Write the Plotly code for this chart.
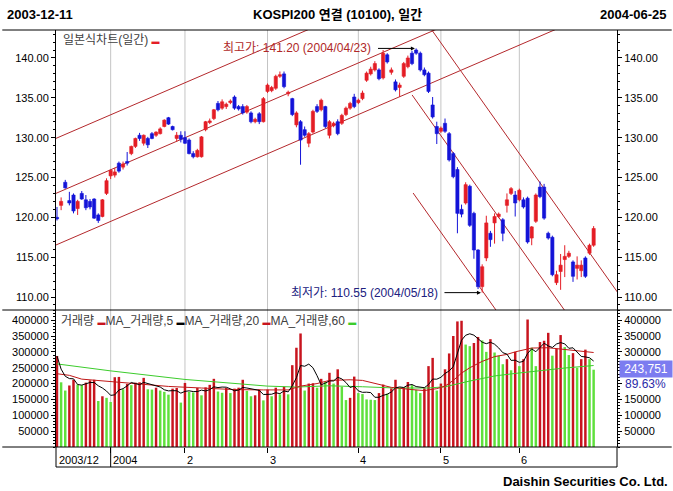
import pandas as pd
import plotly.graph_objects as go

# ---------------- data ----------------
HOLIDAYS = ["2003-12-25", "2003-12-31", "2004-01-01", "2004-01-21", "2004-01-22",
            "2004-01-23", "2004-03-01", "2004-04-05", "2004-04-15", "2004-05-05", "2004-05-26"]
DATES = [d for d in pd.bdate_range("2003-12-11", "2004-06-25")
         if d.strftime("%Y-%m-%d") not in HOLIDAYS]

OPEN = [120.0, 121.5, 124.4, 122.1, 122.8, 121.1, 123.0, 122.2, 122.0, 122.3, 120.3, 120.1, 123.0,
        125.2, 125.3, 126.8, 126.3, 127.0, 128.0, 128.9, 130.3, 129.3, 129.9, 130.5, 130.3, 130.5, 131.4,
        132.5, 131.4, 129.9, 130.3,
        130.0, 129.7, 128.0, 127.6, 127.6, 131.0, 131.9, 132.4, 134.3, 133.7, 133.9, 134.4, 135.1, 133.9,
        133.9, 133.2, 133.1, 132.0, 133.0, 132.0,
        135.8, 135.9, 136.2, 137.7, 138.0, 135.5, 134.9, 131.6, 132.0, 131.0, 129.3, 130.7, 133.9, 133.5,
        133.9, 130.3, 131.5, 132.0, 131.8, 132.9, 133.7, 135.1,
        134.4, 134.9, 137.2, 138.0, 138.5, 138.5, 137.5, 140.4, 138.2, 137.0, 136.3, 137.7, 138.9, 140.6,
        141.0, 140.6, 138.5, 138.1, 134.1, 131.4,
        130.8, 131.8, 130.5, 128.0, 126.0, 121.0, 121.8, 123.9, 120.5, 115.9, 111.3, 114.9, 118.0, 119.3,
        120.1, 119.7, 121.5, 123.0, 122.8,
        122.2, 122.2, 122.4, 117.4, 119.5, 123.8, 123.8, 118.0, 117.5, 111.8, 113.2, 114.7, 115.1, 114.4,
        113.6, 113.3, 114.9, 115.5, 116.5]
HIGH = [121.3, 122.5, 124.7, 123.2, 123.0, 122.2, 123.3, 122.8, 122.3, 122.4, 120.5, 122.3, 124.9,
        126.0, 126.2, 127.0, 127.0, 128.2, 129.0, 130.0, 130.6, 130.4, 130.1, 130.7, 130.8, 131.3, 132.3,
        132.6, 131.5, 130.7, 130.8,
        130.8, 129.9, 128.3, 128.6, 130.2, 132.1, 132.4, 133.6, 134.6, 134.8, 134.4, 134.8, 135.3, 134.1,
        134.2, 134.1, 133.3, 132.5, 133.2, 135.1,
        136.8, 136.5, 137.9, 138.3, 138.3, 135.9, 135.0, 133.3, 132.2, 131.4, 130.7, 133.5, 134.2, 134.9,
        134.0, 132.2, 132.0, 132.3, 133.0, 133.9, 134.5, 135.5,
        134.9, 135.9, 138.3, 138.9, 139.6, 138.7, 141.0, 140.6, 138.8, 137.3, 136.9, 139.5, 140.3, 140.9,
        141.2, 140.8, 138.8, 138.3, 135.1, 132.0,
        131.4, 132.4, 130.7, 128.2, 126.3, 121.6, 124.4, 124.1, 120.7, 116.0, 114.1, 120.2, 118.3, 120.5,
        120.6, 119.9, 123.0, 123.8, 123.3,
        123.6, 122.5, 122.6, 118.9, 123.0, 124.5, 124.2, 118.2, 117.7, 113.3, 115.4, 116.5, 115.8, 114.6,
        115.1, 114.6, 115.1, 116.7, 118.9]
LOW = [119.6, 120.9, 123.6, 121.5, 120.5, 120.3, 122.2, 120.9, 121.0, 119.8, 119.3, 120.0, 122.8,
       124.8, 125.0, 125.6, 126.0, 126.5, 127.8, 128.7, 129.6, 129.0, 128.7, 129.8, 130.1, 130.4, 131.3,
       131.6, 130.9, 129.5, 129.4,
       129.2, 127.9, 127.4, 127.5, 127.5, 130.8, 131.7, 132.2, 133.3, 133.5, 133.6, 134.2, 133.5, 133.4,
       132.9, 133.0, 131.8, 131.8, 131.7, 131.9,
       135.6, 135.7, 136.0, 137.5, 136.2, 135.2, 132.7, 131.3, 126.6, 130.1, 128.8, 130.5, 133.1, 133.3,
       131.2, 129.9, 131.3, 130.3, 131.6, 132.7, 133.5, 133.7,
       134.2, 134.7, 137.0, 137.8, 138.3, 137.2, 137.3, 139.3, 137.9, 135.8, 135.1, 137.5, 138.7, 139.1,
       140.4, 138.3, 137.7, 135.6, 132.4, 129.2,
       130.6, 130.6, 127.0, 124.9, 118.0, 120.0, 121.6, 118.8, 114.8, 111.0, 110.55, 114.5, 116.3, 116.7,
       119.9, 117.0, 120.6, 122.8, 120.1,
       122.0, 121.1, 116.7, 116.5, 119.3, 122.4, 119.7, 117.2, 112.6, 111.5, 110.9, 112.5, 114.9, 111.9,
       112.2, 112.5, 112.4, 115.3, 116.3]
CLOSE = [119.8, 122.0, 123.7, 121.8, 120.8, 122.0, 122.3, 121.2, 121.3, 119.9, 119.6, 122.2, 124.6,
         125.9, 125.7, 125.8, 126.7, 126.8, 128.9, 129.9, 129.9, 130.3, 129.1, 129.9, 130.7, 131.1, 132.2,
         131.7, 131.0, 130.3, 129.8,
         129.3, 128.0, 127.6, 128.4, 130.1, 132.0, 132.1, 133.5, 133.5, 134.5, 134.2, 134.6, 133.7, 133.6,
         133.1, 133.9, 132.0, 132.3, 132.0, 134.9,
         136.6, 136.3, 137.7, 137.9, 136.4, 135.7, 132.9, 133.1, 129.7, 130.3, 130.5, 133.3, 133.3, 134.7,
         131.4, 132.0, 131.8, 130.5, 132.8, 133.7, 134.3, 133.9,
         134.7, 135.6, 138.1, 138.6, 139.3, 137.4, 140.6, 139.5, 138.5, 136.0, 136.6, 139.3, 140.0, 139.3,
         140.6, 138.5, 137.9, 135.8, 132.6, 130.5,
         131.2, 130.8, 127.2, 125.1, 120.5, 120.4, 124.1, 119.0, 115.9, 111.3, 113.8, 119.3, 117.2, 120.1,
         120.4, 118.0, 122.2, 123.6, 121.8,
         123.4, 121.3, 116.9, 118.8, 122.8, 122.6, 119.9, 117.4, 112.8, 112.8, 114.0, 115.1, 115.5, 112.6,
         114.0, 114.0, 112.6, 116.5, 118.6]

VOLUME_K = [287, 204, 178, 194, 212, 197, 195, 203, 210, 212, 145, 160, 155,
            142, 220, 221, 182, 199, 195, 203, 204, 218, 182, 181, 187, 178, 174, 165, 184, 186, 140,
            202, 174, 172, 186, 163, 188, 196, 215, 175, 171, 186, 170, 184, 187, 212, 177, 160, 163, 181, 147,
            181, 160, 187, 166, 190, 166, 258, 313, 358, 178, 200, 201, 187, 215, 205, 234, 200, 245, 190, 148,
            155, 222,
            170, 167, 150, 149, 148, 170, 197, 168, 185, 212, 185, 188, 205, 195, 180, 170, 185, 255, 281, 178,
            200, 245, 295, 350, 396, 398, 323, 318, 328, 347, 336, 300, 340, 298, 288, 261, 277, 242, 300,
            255, 277, 402, 313, 255, 331, 335, 360, 288, 310, 353, 315, 290, 296, 250, 277, 307, 277, 243.751]

MA20_IDX = [0, 3, 6, 10, 14, 20, 27, 35, 43, 50, 56, 59, 63, 66, 71, 74, 78, 81, 86, 89, 92, 94, 96,
            98, 100, 103, 106, 109, 111, 113, 115, 119, 123, 127, 130]
MA20_K = [231, 226, 214, 210, 206, 199, 191, 186, 181, 180, 180, 192, 200, 210, 212, 210, 198, 188, 181,
          178, 184, 192, 210, 233, 250, 270, 285, 292, 300, 305, 312, 313, 307, 302, 298]
MA60_IDX = [0, 13, 31, 45, 51, 58, 66, 74, 82, 90, 94, 100, 106, 111, 116, 123, 130]
MA60_K = [262, 240, 213, 198, 192, 189, 193, 190, 186, 186, 190, 208, 224, 232, 240, 249, 257]

PRICE_TICKS = [110, 115, 120, 125, 130, 135, 140]
VOL_TICKS = [50000, 100000, 150000, 200000, 250000, 300000, 350000, 400000]
MONTH_TEXT = ["2003/12", "2004", "2", "3", "4", "5", "6"]

HIGH_NOTE = ("최고가", 141.20, "2004/04/23")
LOW_NOTE = ("최저가", 110.55, "2004/05/18")
LAST_VOL_TEXT = "243,751"
LAST_VOL_PCT = "89.63%"

n = len(DATES)
assert len(OPEN) == n and len(HIGH) == n and len(LOW) == n and len(CLOSE) == n and len(VOLUME_K) == n

X = list(range(n))
VOLUME = [v * 1000 for v in VOLUME_K]
MA5 = pd.Series(VOLUME).rolling(5, min_periods=1).mean().tolist()
MA20 = [v * 1000 for v in MA20_K]
MA60 = [v * 1000 for v in MA60_K]

month_starts = [i for i in range(1, n) if DATES[i].month != DATES[i - 1].month]
label_pos = [0] + month_starts
date_idx = {d.strftime("%Y/%m/%d"): i for i, d in enumerate(DATES)}

# ---------------- styling ----------------
RED = "#e41e26"
BLUE = "#1414d8"
VRED = "#c8141e"
VGREEN = "#5fe03c"
MA60C = "#3ccc2c"
TREND = "#b4282c"
FONT = "Liberation Sans, Arial, Noto Sans CJK KR, sans-serif"

W, H = 673, 491
ML, MR, MT, MB = 54, 55, 30, 44
PW, PH = W - ML - MR, H - MT - MB


def px(xp):
    return (xp - ML) / PW


def py(yp):
    return (H - MB - yp) / PH


SPLIT = py(310)
XR = [-0.24, 135.66]
PR = [108.37, 143.51]
VR = [0, 432000]

fig = go.Figure()

up = [i for i in X if CLOSE[i] >= OPEN[i]]
dn = [i for i in X if CLOSE[i] < OPEN[i]]


def wick(idx):
    xs, ys = [], []
    for i in idx:
        xs += [i, i, None]
        ys += [LOW[i], HIGH[i], None]
    return xs, ys


for idx, col in ((up, RED), (dn, BLUE)):
    xs, ys = wick(idx)
    fig.add_trace(go.Scatter(x=xs, y=ys, mode="lines", line=dict(color=col, width=1),
                             hoverinfo="skip", xaxis="x", yaxis="y"))
for idx, col in ((up, RED), (dn, BLUE)):
    fig.add_trace(go.Bar(x=idx, y=[abs(CLOSE[i] - OPEN[i]) for i in idx],
                         base=[min(OPEN[i], CLOSE[i]) for i in idx], width=0.78,
                         marker=dict(color=col, line=dict(color=col, width=0.6)),
                         xaxis="x", yaxis="y"))

vcolors = [VRED if i == 0 or VOLUME[i] > VOLUME[i - 1] else VGREEN for i in X]
fig.add_trace(go.Bar(x=X, y=VOLUME, width=0.6, marker=dict(color=vcolors, line=dict(width=0)),
                     xaxis="x", yaxis="y2"))
fig.add_trace(go.Scatter(x=MA60_IDX, y=MA60, mode="lines", line=dict(color=MA60C, width=1),
                         xaxis="x", yaxis="y2"))
fig.add_trace(go.Scatter(x=MA20_IDX, y=MA20, mode="lines", line=dict(color="#c01818", width=1),
                         xaxis="x", yaxis="y2"))
fig.add_trace(go.Scatter(x=X, y=MA5, mode="lines", line=dict(color="black", width=1),
                         xaxis="x", yaxis="y2"))

# dummy traces so right-hand axes get drawn
fig.add_trace(go.Scatter(x=[X[0]], y=[CLOSE[0]], mode="markers", marker=dict(opacity=0),
                         hoverinfo="skip", xaxis="x", yaxis="y3"))
fig.add_trace(go.Scatter(x=[X[0]], y=[VOLUME[0]], mode="markers", marker=dict(opacity=0),
                         hoverinfo="skip", xaxis="x", yaxis="y4"))

shapes = []
# month gridlines
for m in month_starts:
    shapes.append(dict(type="line", xref="x", yref="paper", x0=m, x1=m, y0=0, y1=1,
                       line=dict(color="#c4c4c4", width=1), layer="below"))
# trend channels (data coordinates)
TRENDLINES = [(-1, 129.74, 64, 144.26), (-1, 122.84, 95, 144.29), (-1, 116.36, 125, 144.52),
              (86.0, 147.02, 137, 109.71), (86.02, 135.36, 124, 107.57), (86.27, 123.05, 108, 107.15)]
for x0, y0, x1, y1 in TRENDLINES:
    shapes.append(dict(type="line", xref="x", yref="y", x0=x0, y0=y0, x1=x1, y1=y1,
                       line=dict(color=TREND, width=1), layer="below"))
# frame lines
for yp in (30, 310, 447):
    shapes.append(dict(type="line", xref="paper", yref="paper", x0=px(0), x1=px(W), y0=py(yp), y1=py(yp),
                       line=dict(color="black", width=1)))
shapes.append(dict(type="line", xref="paper", yref="paper", x0=px(54), x1=px(618), y0=py(467), y1=py(467),
                   line=dict(color="black", width=1)))
for xp in (54, 618):
    shapes.append(dict(type="line", xref="paper", yref="paper", x0=px(xp), x1=px(xp), y0=py(447), y1=py(467),
                       line=dict(color="black", width=1)))
shapes.append(dict(type="line", xref="x", yref="paper", x0=month_starts[0], x1=month_starts[0],
                   y0=py(447), y1=py(467), line=dict(color="black", width=1)))

ann = []
hdr = dict(family="Liberation Sans, Arial, Noto Sans CJK KR", size=13, color="black")
ann.append(dict(xref="paper", yref="paper", x=px(3), y=py(14), text="<b>%s</b>" % DATES[0].strftime("%Y-%m-%d"),
                showarrow=False, xanchor="left", yanchor="middle", font=hdr))
ann.append(dict(xref="paper", yref="paper", x=px(337), y=py(14), text="<b>KOSPI200 연결 (10100), 일간</b>",
                showarrow=False, xanchor="center", yanchor="middle", font=hdr))
ann.append(dict(xref="paper", yref="paper", x=px(670), y=py(14), text="<b>%s</b>" % DATES[-1].strftime("%Y-%m-%d"),
                showarrow=False, xanchor="right", yanchor="middle", font=hdr))
ann.append(dict(xref="paper", yref="paper", x=px(671), y=py(481), text="<b>Daishin Securities Co. Ltd.</b>",
                showarrow=False, xanchor="right", yanchor="middle", font=hdr))


def dash(col):
    return "<span style='color:%s;font-size:8px'>▬</span>" % col


lg = dict(family=FONT, size=12, color="#404040")
ann.append(dict(xref="paper", yref="paper", x=px(59), y=py(40),
                text="일본식차트(일간) " + dash(RED),
                showarrow=False, xanchor="left", yanchor="middle", font=lg))
ann.append(dict(xref="paper", yref="paper", x=px(57), y=py(321),
                text=("거래량 " + dash(VRED) + "MA_거래량,5 " + dash("black") + "MA_거래량,20 " + dash(VRED)
                      + "MA_거래량,60 " + dash(MA60C)),
                showarrow=False, xanchor="left", yanchor="middle", font=lg))

# high / low notes
hi_i = date_idx[HIGH_NOTE[2]]
lo_i = date_idx[LOW_NOTE[2]]
ann.append(dict(xref="x", yref="y", x=hi_i - 10.4, y=HIGH_NOTE[1],
                text="%s: %.2f (%s)" % HIGH_NOTE, showarrow=False, xanchor="right", yanchor="middle",
                font=dict(family=FONT, size=12, color="#b02828")))
ann.append(dict(xref="x", yref="y", x=hi_i - 0.3, y=HIGH_NOTE[1], ax=hi_i - 9.6, ay=HIGH_NOTE[1],
                axref="x", ayref="y", text="", showarrow=True, arrowhead=2, arrowsize=0.8,
                arrowwidth=1, arrowcolor="black"))
ann.append(dict(xref="x", yref="y", x=lo_i - 10.2, y=LOW_NOTE[1],
                text="%s: %.2f (%s)" % LOW_NOTE, showarrow=False, xanchor="right", yanchor="middle",
                font=dict(family=FONT, size=12, color="#202080")))
ann.append(dict(xref="x", yref="y", x=lo_i - 0.3, y=LOW_NOTE[1], ax=lo_i - 9.5, ay=LOW_NOTE[1],
                axref="x", ayref="y", text="", showarrow=True, arrowhead=2, arrowsize=0.8,
                arrowwidth=1, arrowcolor="black"))

# month labels
for p, t in zip(label_pos, MONTH_TEXT):
    ann.append(dict(xref="x", yref="paper", x=p, y=py(460), text=t, showarrow=False,
                    xanchor="left", yanchor="middle", xshift=0,
                    font=dict(family=FONT, size=11, color="black")))

# last value box
ann.append(dict(xref="paper", yref="paper", x=px(647), y=py(369), text=LAST_VOL_TEXT, showarrow=False,
                xanchor="center", yanchor="middle", bgcolor="#7c7cf0", width=50, height=14,
                font=dict(family=FONT, size=12, color="white")))
ann.append(dict(xref="paper", yref="paper", x=px(647), y=py(384), text=LAST_VOL_PCT, showarrow=False,
                xanchor="center", yanchor="middle", font=dict(family=FONT, size=12, color="#2a2aa8")))

tickfont = dict(family=FONT, size=11, color="black")
price_ax = dict(range=PR, tickvals=PRICE_TICKS, ticktext=["%.2f" % v for v in PRICE_TICKS],
                ticks="outside", ticklen=4, tickcolor="black", tickfont=tickfont,
                showgrid=False, zeroline=False, showline=True, linecolor="black", linewidth=1,
                minor=dict(ticks="outside", ticklen=2, dtick=1, tick0=0, tickcolor="black", showgrid=False))
vol_ax = dict(range=VR, tickvals=VOL_TICKS, ticktext=[str(v) for v in VOL_TICKS],
              ticks="outside", ticklen=4, tickcolor="black", tickfont=tickfont,
              showgrid=False, zeroline=False, showline=True, linecolor="black", linewidth=1,
              minor=dict(ticks="outside", ticklen=2, dtick=10000, tick0=0, tickcolor="black", showgrid=False))

fig.update_layout(
    width=W, height=H, margin=dict(l=ML, r=MR, t=MT, b=MB, pad=0),
    paper_bgcolor="white", plot_bgcolor="white", showlegend=False, barmode="overlay",
    font=dict(family=FONT, size=11, color="black"),
    xaxis=dict(range=XR, domain=[0, 1], anchor="y2", tickvals=month_starts, ticks="outside", ticklen=5,
               tickcolor="black", showticklabels=False, showgrid=False, zeroline=False, showline=False),
    yaxis=dict(domain=[SPLIT, 1], anchor="x", side="left", **price_ax),
    yaxis2=dict(domain=[0, SPLIT], anchor="x", side="left", **vol_ax),
    yaxis3=dict(overlaying="y", anchor="x", side="right", **price_ax),
    yaxis4=dict(overlaying="y2", anchor="x", side="right",
                **{**vol_ax, "ticktext": [str(v) if v not in (200000, 250000) else "" for v in VOL_TICKS]}),
    shapes=shapes, annotations=ann,
)

fig.write_html("out.html")
